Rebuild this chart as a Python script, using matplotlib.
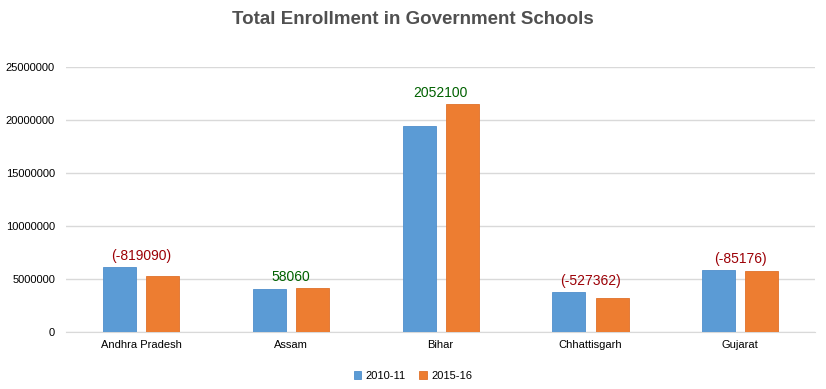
import matplotlib

matplotlib.use("Agg")
import matplotlib.pyplot as plt
import numpy as np

states = ["Andhra Pradesh", "Assam", "Bihar", "Chhattisgarh", "Gujarat"]
enrol_2010 = [6120000, 4060000, 19450000, 3770000, 5850000]
enrol_2015 = [5300910, 4118060, 21502100, 3242638, 5764824]
change_labels = ["(-819090)", "58060", "2052100", "(-527362)", "(-85176)"]
change_colors = ["#9c0006", "#006100", "#006100", "#9c0006", "#9c0006"]

plt.rcParams["font.family"] = ["Liberation Sans", "DejaVu Sans"]

fig = plt.figure(figsize=(8.26, 3.89), dpi=100)
ax = fig.add_axes([0.080, 0.1465, 0.907, 0.6813])

x = np.arange(len(states))
w = 0.22
off = 0.144
ax.bar(x - off, enrol_2010, w, color="#5b9bd5", edgecolor="#4f8fcc", linewidth=0.6,
       label="2010-11", zorder=3)
ax.bar(x + off, enrol_2015, w, color="#ed7d31", edgecolor="#e0712a", linewidth=0.6,
       label="2015-16", zorder=3)

for i, (lab, col) in enumerate(zip(change_labels, change_colors)):
    top = max(enrol_2010[i], enrol_2015[i])
    ax.annotate(lab, (x[i], top), xytext=(0, 3), textcoords="offset points",
                ha="center", va="bottom", color=col, fontsize=10)

ax.set_xlim(-0.5, len(states) - 0.5)
ax.set_ylim(0, 25000000)
ax.set_yticks(range(0, 25000001, 5000000))
ax.set_yticklabels([str(v) for v in range(0, 25000001, 5000000)])
ax.set_xticks(x)
ax.set_xticklabels(states)
ax.tick_params(axis="both", length=0, labelsize=8, colors="#000000", pad=6)
ax.tick_params(axis="y", pad=8)
ax.yaxis.grid(True, color="#d9d9d9", linewidth=1)
ax.set_axisbelow(True)
for s in ["top", "right", "left"]:
    ax.spines[s].set_visible(False)
ax.spines["bottom"].set_color("#d9d9d9")

fig.suptitle("Total Enrollment in Government Schools", y=0.972, fontsize=13.5,
             fontweight="bold", color="#505050")
fig.legend(loc="lower center", bbox_to_anchor=(0.5, -0.005), ncol=2, frameon=False,
           fontsize=8, handlelength=0.7, handleheight=0.7, handletextpad=0.4,
           columnspacing=1.2)

fig.savefig("out.png", dpi=100)
